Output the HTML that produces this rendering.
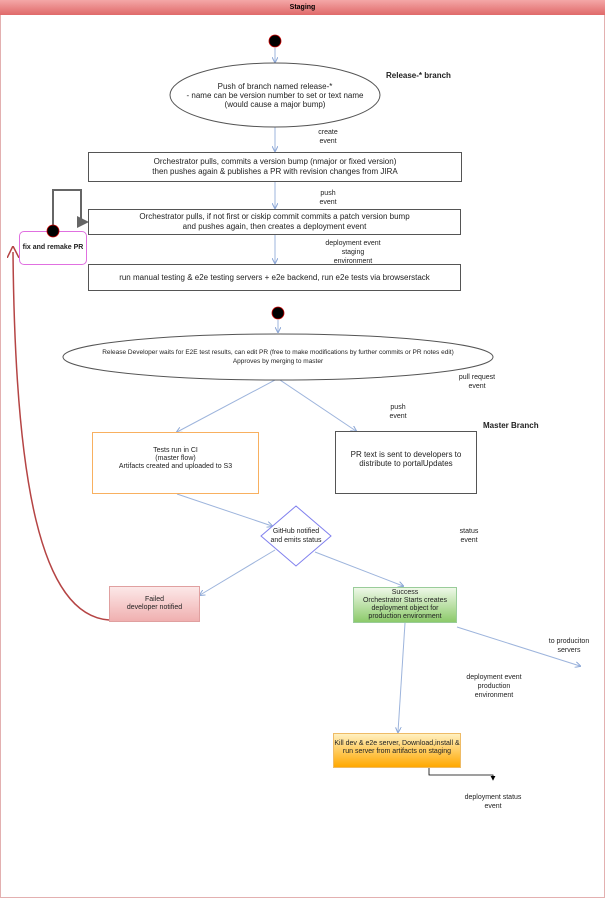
<!DOCTYPE html>
<html><head><style>
body{margin:0;width:605px;height:900px;background:#fff;font-family:"Liberation Sans",sans-serif;position:relative;overflow:hidden}
.t{position:absolute;font-size:7px;color:#222;text-align:center;line-height:9px;white-space:nowrap}
.b{position:absolute;box-sizing:border-box;display:flex;align-items:center;justify-content:center;text-align:center;font-size:8px;line-height:10px;color:#222}
</style></head><body>
<div style="position:absolute;left:0;top:0;width:605px;height:15px;background:linear-gradient(#f4a7a7,#e06a6a);font-size:7px;font-weight:bold;text-align:center;line-height:15px">Staging</div>
<div style="position:absolute;left:0;top:15px;width:603px;height:882px;border:1px solid #e3b0b0;border-top:none"></div>
<svg width="605" height="900" style="position:absolute;left:0;top:0">
<defs>
<marker id="a" markerWidth="6" markerHeight="6" refX="5" refY="3" orient="auto"><path d="M0,0L6,3L0,6" fill="none" stroke="#8aa6d6" stroke-width="1"/></marker>
<marker id="k" markerWidth="6" markerHeight="6" refX="5" refY="3" orient="auto"><path d="M0,0L6,3L0,6z" fill="#000"/></marker>
<marker id="g" markerWidth="6" markerHeight="6" refX="5" refY="3" orient="auto"><path d="M0,0L6,3L0,6z" fill="#666"/></marker>
<marker id="r" markerWidth="8" markerHeight="8" refX="4" refY="4" orient="auto"><path d="M0,0L8,4L0,8" fill="none" stroke="#b54444" stroke-width="1"/></marker>
</defs>
<g stroke="#9db4dc" stroke-width="1" fill="none">
<line x1="275" y1="48" x2="275" y2="62" marker-end="url(#a)"/>
<line x1="275" y1="127" x2="275" y2="151" marker-end="url(#a)"/>
<line x1="275" y1="182" x2="275" y2="208" marker-end="url(#a)"/>
<line x1="275" y1="235" x2="275" y2="263" marker-end="url(#a)"/>
<line x1="278" y1="320" x2="278" y2="332" marker-end="url(#a)"/>
<line x1="275" y1="380" x2="177" y2="432" marker-end="url(#a)"/>
<line x1="280" y1="380" x2="356" y2="431" marker-end="url(#a)"/>
<line x1="177" y1="494" x2="272" y2="526" marker-end="url(#a)"/>
<line x1="275" y1="550" x2="200" y2="595" marker-end="url(#a)"/>
<line x1="315" y1="552" x2="403" y2="586" marker-end="url(#a)"/>
<line x1="405" y1="623" x2="398" y2="732" marker-end="url(#a)"/>
<line x1="457" y1="627" x2="580" y2="666" marker-end="url(#a)"/>
</g>
<circle cx="275" cy="41" r="6" fill="#000" stroke="#c00" stroke-width="0.8"/>
<circle cx="278" cy="313" r="6" fill="#000" stroke="#c00" stroke-width="0.8"/>
<ellipse cx="275" cy="95" rx="105" ry="32" fill="#fff" stroke="#555"/>
<ellipse cx="278" cy="357" rx="215" ry="23" fill="#fff" stroke="#555"/>
<polygon points="296,506 331,536 296,566 261,536" fill="#fff" stroke="#8080ee"/>
<path d="M53,226V190H81V222H87" fill="none" stroke="#666" stroke-width="2" marker-end="url(#g)"/>
<path d="M109,620C40,615 15,480 13,252" fill="none" stroke="#b54444" stroke-width="1.5" marker-end="url(#r)"/>
<path d="M429,768V775H493V780" fill="none" stroke="#000" stroke-width="0.8" marker-end="url(#k)"/>
</svg>
<div class="t" style="left:170px;top:82px;width:210px;font-size:8px">Push of branch named release-*<br>- name can be  version number to set or text name<br>(would cause a major bump)</div>
<div class="t" style="left:386px;top:71px;font-weight:bold;font-size:8px">Release-* branch</div>
<div class="t" style="left:318px;top:128px;width:20px">create<br>event</div>
<div class="b" style="left:88px;top:152px;width:374px;height:30px;border:1px solid #555">Orchestrator pulls, commits a version bump (nmajor or fixed version)<br>then pushes again &amp; publishes a PR with revision changes from JIRA</div>
<div class="t" style="left:318px;top:189px;width:20px">push<br>event</div>
<div class="b" style="left:88px;top:209px;width:373px;height:26px;border:1px solid #555">Orchestrator pulls, if not first or ciskip commit commits a patch version bump<br>and pushes again, then creates a deployment event</div>
<div class="t" style="left:323px;top:239px;width:60px">deployment event<br>staging<br>environment</div>
<div class="b" style="left:88px;top:264px;width:373px;height:27px;border:1px solid #555">run manual testing &amp; e2e testing servers + e2e backend, run e2e tests via browserstack</div>
<div class="b" style="left:19px;top:231px;width:68px;height:34px;border:1px solid #e070e0;border-radius:5px;font-size:7px;font-weight:bold">fix and remake PR</div>
<svg width="605" height="300" style="position:absolute;left:0;top:0"><circle cx="53" cy="231" r="6" fill="#000" stroke="#c00" stroke-width="0.8"/></svg>
<div class="t" style="left:63px;top:348px;width:430px;font-size:6.5px">Release Developer waits for E2E test results, can edit PR (free to make modifications by further commits or PR notes edit)<br>Approves by merging to master</div>
<div class="t" style="left:457px;top:373px;width:40px">pull request<br>event</div>
<div class="t" style="left:388px;top:403px;width:20px">push<br>event</div>
<div class="t" style="left:483px;top:421px;font-weight:bold;font-size:8px">Master Branch</div>
<div class="b" style="left:92px;top:432px;width:167px;height:62px;border:1px solid #f8b060;font-size:7px;line-height:8px;align-items:flex-start;padding-top:14px">Tests run in CI<br>(master flow)<br>Artifacts created and uploaded to S3</div>
<div class="b" style="left:335px;top:431px;width:142px;height:63px;border:1px solid #555;line-height:9px;padding-bottom:8px">PR text is sent to developers to<br>distribute to portalUpdates</div>
<div class="t" style="left:266px;top:527px;width:60px">GitHub notified<br>and emits status</div>
<div class="t" style="left:454px;top:527px;width:30px">status<br>event</div>
<div class="b" style="left:109px;top:586px;width:91px;height:36px;border:1px solid #e0a0a0;background:linear-gradient(#fce8e8,#f0b0b0);font-size:7px;line-height:8px">Failed<br>developer notified</div>
<div class="b" style="left:353px;top:587px;width:104px;height:36px;border:1px solid #9c9;background:linear-gradient(#eef8e8,#8cca6a);font-size:7px;line-height:8px">Success<br>Orchestrator Starts creates<br>deployment object for<br>production environment</div>
<div class="t" style="left:546px;top:637px;width:46px">to produciton<br>servers</div>
<div class="t" style="left:462px;top:673px;width:64px">deployment  event<br>production<br>environment</div>
<div class="b" style="left:333px;top:733px;width:128px;height:35px;border:1px solid #eebb66;background:linear-gradient(#fff0c0,#ffa800);font-size:7px;line-height:8px;padding-bottom:6px">Kill dev &amp; e2e server, Download,install &amp;<br>run server from artifacts on staging</div>
<div class="t" style="left:461px;top:793px;width:64px">deployment status<br>event</div>
</body></html>
